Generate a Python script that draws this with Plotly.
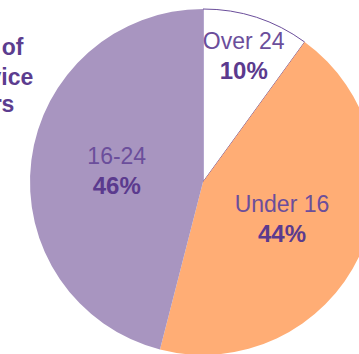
import plotly.graph_objects as go

labels = ["Over 24", "Under 16", "16-24"]
values = [10, 44, 46]
colors = ["#ffffff", "#ffad75", "#a895c0"]
title_lines = ["Ages of", "service", "users"]

W, H = 380, 364
cx, cy, r = 203, 182, 173

fig = go.Figure(go.Pie(
    labels=labels,
    values=values,
    sort=False,
    direction="clockwise",
    rotation=0,
    marker=dict(colors=colors, line=dict(color="#6b4e9b", width=[1, 0, 0])),
    texttemplate="%{label}<br><span style='color:#5b3a8e;font-size:24px'><b>%{percent:.0%}</b></span>",
    textposition="inside",
    insidetextorientation="horizontal",
    textfont=dict(family="Liberation Sans, Arial, sans-serif", size=23, color="#6b4e9b"),
    hoverinfo="none",
    showlegend=False,
    domain=dict(x=[(cx - r) / W, (cx + r) / W], y=[(H - cy - r) / H, (H - cy + r) / H]),
))

title_right = [26, 35, 16]
title_y = [47, 77, 104]
for t, xr, yc in zip(title_lines, title_right, title_y):
    fig.add_annotation(
        text="<b>" + t + "</b>", xref="paper", yref="paper",
        x=xr / W, y=1 - yc / H, xanchor="right", yanchor="middle",
        showarrow=False,
        font=dict(family="Liberation Sans, Arial, sans-serif", size=23, color="#5c3d8f"),
    )

fig.update_layout(
    width=W, height=H,
    margin=dict(l=0, r=0, t=0, b=0),
    paper_bgcolor="white", plot_bgcolor="white",
    showlegend=False,
    uniformtext=dict(minsize=23, mode="show"),
)

fig.write_html(
    "out.html",
    config={"displayModeBar": False},
    post_script="document.documentElement.style.overflow='hidden';document.body.style.overflow='hidden';document.body.style.margin='0';",
)
